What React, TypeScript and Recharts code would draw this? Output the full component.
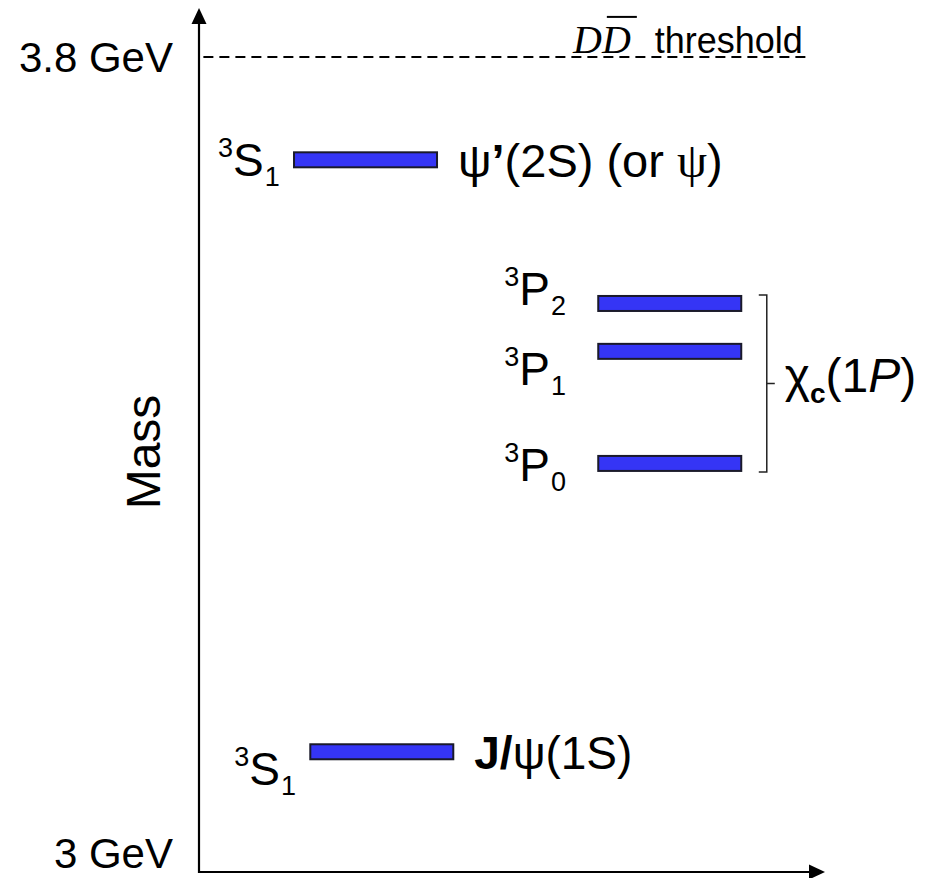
import { ReferenceLine, Scatter, ScatterChart, XAxis, YAxis } from "recharts";

// charmonium levels below open charm, masses (GeV)
const states = ["J/ψ(1S)", "χc0(1P)", "χc1(1P)", "χc2(1P)", "ψ’(2S)"];
const masses = [3.118, 3.401, 3.511, 3.558, 3.699];
const orbital = ["S", "P", "P", "P", "S"];
const totalJ = [1, 0, 1, 2, 1];
const multiplicity = 3;

const thresholdMass = 3.8;
const axisTicks = [3, 3.8];
const axisTickLabels = ["3 GeV", "3.8 GeV"];
const axisTitle = "Mass";

const SANS = "'Liberation Sans', Arial, sans-serif";
const SERIF = "'Liberation Serif', 'Times New Roman', serif";
const BAR_FILL = "#3535f5";
const BAR_W = 145;
const BAR_H = 17;

// x axis is just diagram units (0..10), y is mass
const X_DOMAIN = [0, 10];
const Y_DOMAIN = [3, 3.848];

// where each level sits across the page, and how its term label is nudged (px)
const LEVEL_LAYOUT: Record<string, { x: number; termGap: number; termDy: number }> = {
    "J/ψ(1S)": { x: 2.92, termGap: 75, termDy: 17 },
    "χc0(1P)": { x: 7.52, termGap: 93, termDy: 1 },
    "χc1(1P)": { x: 7.52, termGap: 93, termDy: 17 },
    "χc2(1P)": { x: 7.52, termGap: 93, termDy: -15 },
    "ψ’(2S)": { x: 2.66, termGap: 75, termDy: 0 },
};
const BRACKET_X = 9.07;
const DASH_FROM = 0.07;
const DASH_TO = 9.71;

const levels = states.map((name, i) => ({
    name,
    x: LEVEL_LAYOUT[name].x,
    y: masses[i],
    L: orbital[i],
    J: totalJ[i],
}));

const pMasses = masses.filter((_, i) => orbital[i] === "P");

function TermLabel({ x, y, L, J }: { x: number; y: number; L: string; J: number }) {
    return (
        <text x={x} y={y} fontFamily={SANS} fill="#000">
            <tspan fontSize={27} dy={-19}>{multiplicity}</tspan>
            <tspan fontSize={46} dy={19} dx={0}>{L}</tspan>
            <tspan fontSize={27} dy={10} dx={1}>{J}</tspan>
        </text>
    );
}

function StateName({ name, x, y }: { name: string; x: number; y: number }) {
    if (name.startsWith("J/")) {
        return (
            <text x={x} y={y} fontFamily={SANS} fontSize={46} fill="#000">
                <tspan fontWeight="bold">{name.slice(0, 2)}</tspan>
                <tspan>{name.slice(2)}</tspan>
            </text>
        );
    }
    if (name.startsWith("ψ’")) {
        return (
            <text x={x} y={y} fontFamily={SANS} fontSize={47} fill="#000">
                <tspan>ψ</tspan>
                <tspan fontWeight="bold">’</tspan>
                <tspan>{name.slice(2)} (or </tspan>
                <tspan fontFamily={SERIF} fontSize={48}>ψ</tspan>
                <tspan>)</tspan>
            </text>
        );
    }
    return null;
}

function LevelShape(props: any) {
    const { cx, cy, payload } = props;
    const lay = LEVEL_LAYOUT[payload.name];
    const left = cx - BAR_W / 2;
    const right = cx + BAR_W / 2;
    return (
        <g>
            <rect
                x={left + 1}
                y={cy - BAR_H / 2 + 1}
                width={BAR_W - 2}
                height={BAR_H - 2}
                fill={BAR_FILL}
                stroke="#1a1a2a"
                strokeWidth={2}
            />
            <TermLabel x={left - lay.termGap} y={cy + lay.termDy + 16.5} L={payload.L} J={payload.J} />
            <StateName name={payload.name} x={right + 20} y={cy + 17} />
        </g>
    );
}

function YAxisArrow({ x1, y1, x2, y2 }: any) {
    const my = (y1 + y2) / 2 + 12;
    return (
        <g>
            <line x1={x1} y1={y1 + 1} x2={x2} y2={y2 + 12} stroke="#000" strokeWidth={2.2} />
            <polygon points={`${x2},${y2} ${x2 - 7.5},${y2 + 16} ${x2 + 7.5},${y2 + 16}`} fill="#000" />
            <text
                x={x1 - 39}
                y={my}
                transform={`rotate(-90, ${x1 - 39}, ${my})`}
                textAnchor="middle"
                fontFamily={SANS}
                fontSize={48}
                fill="#000"
            >
                {axisTitle}
            </text>
        </g>
    );
}

function XAxisArrow({ x1, y1, x2 }: any) {
    return (
        <g>
            <line x1={x1 - 1} y1={y1} x2={x2 - 12} y2={y1} stroke="#000" strokeWidth={2.2} />
            <polygon points={`${x2},${y1} ${x2 - 16},${y1 - 7.5} ${x2 - 16},${y1 + 7.5}`} fill="#000" />
        </g>
    );
}

function ThresholdShape({ x1, y1, x2 }: any) {
    return (
        <g>
            <line x1={x1} y1={y1} x2={x2} y2={y1} stroke="#000" strokeWidth={2} strokeDasharray="10 6" />
            <text x={x2 - 176} y={y1 - 4} textAnchor="end" fontFamily={SERIF} fontStyle="italic" fontSize={40} fill="#000">
                DD
            </text>
            <line x1={x2 - 200} y1={y1 - 40} x2={x2 - 170} y2={y1 - 40} stroke="#000" strokeWidth={2} />
            <text x={x2 - 4} y={y1 - 4} textAnchor="end" fontFamily={SANS} fontSize={36} fill="#000">
                threshold
            </text>
        </g>
    );
}

function BracketShape({ x1, y1, y2 }: any) {
    const top = Math.min(y1, y2) - BAR_H / 2;
    const bottom = Math.max(y1, y2) + BAR_H / 2;
    const mid = (top + bottom) / 2;
    return (
        <g>
            <path
                d={`M${x1 - 8},${top} H${x1} V${bottom} H${x1 - 8} M${x1},${mid} H${x1 + 8}`}
                fill="none"
                stroke="#222"
                strokeWidth={1.5}
            />
            <text x={x1 + 18} y={mid + 9} fontFamily={SANS} fontSize={48} fill="#000">
                <tspan>χ</tspan>
                <tspan fontSize={28} fontWeight="bold" dy={11}>c</tspan>
                <tspan dy={-11}>(1</tspan>
                <tspan fontStyle="italic">P</tspan>
                <tspan>)</tspan>
            </text>
        </g>
    );
}

function GevTick({ x, y, payload }: any) {
    const i = axisTicks.indexOf(payload.value);
    // bottom label sits just above the corner so it isn't clipped
    const dy = i === 0 ? -4 : 15;
    return (
        <text x={x} y={y + dy} textAnchor="end" fontFamily={SANS} fontSize={42} fill="#000">
            {axisTickLabels[i]}
        </text>
    );
}

export default function App() {
    return (
        <div style={{ position: "absolute", left: 0, top: 0, background: "#fff" }}>
            <ScatterChart width={928} height={878} margin={{ top: 8, right: 103, bottom: 6, left: 0 }}>
                <XAxis type="number" dataKey="x" domain={X_DOMAIN} hide />
                <YAxis
                    type="number"
                    dataKey="y"
                    domain={Y_DOMAIN}
                    ticks={axisTicks}
                    interval={0}
                    width={199}
                    axisLine={false}
                    tickLine={false}
                    tickSize={0}
                    tickMargin={26}
                    tick={<GevTick />}
                />
                <ReferenceLine
                    segment={[{ x: DASH_FROM, y: thresholdMass }, { x: DASH_TO, y: thresholdMass }]}
                    ifOverflow="visible"
                    shape={ThresholdShape}
                />
                <ReferenceLine
                    segment={[{ x: BRACKET_X, y: Math.max(...pMasses) }, { x: BRACKET_X, y: Math.min(...pMasses) }]}
                    ifOverflow="visible"
                    shape={BracketShape}
                />
                <ReferenceLine
                    segment={[{ x: X_DOMAIN[0], y: Y_DOMAIN[0] }, { x: X_DOMAIN[0], y: Y_DOMAIN[1] }]}
                    ifOverflow="visible"
                    shape={YAxisArrow}
                />
                <ReferenceLine
                    segment={[{ x: X_DOMAIN[0], y: Y_DOMAIN[0] }, { x: X_DOMAIN[1], y: Y_DOMAIN[0] }]}
                    ifOverflow="visible"
                    shape={XAxisArrow}
                />
                <Scatter data={levels} isAnimationActive={false} shape={LevelShape} />
            </ScatterChart>
        </div>
    );
}
